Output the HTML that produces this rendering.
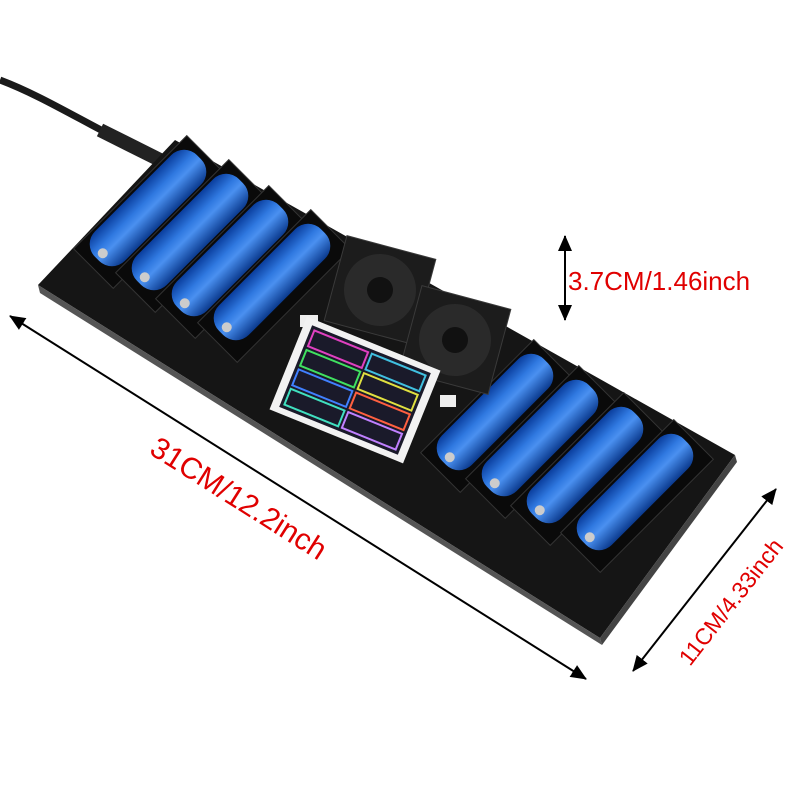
<!DOCTYPE html>
<html><head><meta charset="utf-8"><style>
html,body{margin:0;padding:0;background:#fff;width:800px;height:800px;overflow:hidden}
</style></head><body>
<svg width="800" height="800" viewBox="0 0 800 800" xmlns="http://www.w3.org/2000/svg">
<defs>
<linearGradient id="bat" x1="0" y1="0" x2="1" y2="0">
<stop offset="0" stop-color="#0a3d9c"/><stop offset="0.35" stop-color="#2f78e0"/><stop offset="0.55" stop-color="#4a90f0"/><stop offset="1" stop-color="#0b3a8e"/>
</linearGradient>
<marker id="ah" markerUnits="userSpaceOnUse" markerWidth="16" markerHeight="14" refX="15" refY="7" orient="auto"><path d="M0,0 L16,7 L0,14 z" fill="#000"/></marker>
<marker id="at" markerUnits="userSpaceOnUse" markerWidth="16" markerHeight="14" refX="1" refY="7" orient="auto"><path d="M16,0 L0,7 L16,14 z" fill="#000"/></marker>
</defs>
<path d="M0,80 C40,95 80,120 130,145" stroke="#1a1a1a" stroke-width="7" fill="none"/>
<path d="M100,130 L160,160" stroke="#222" stroke-width="14"/>
<polygon points="175,140 735,455 600,638 38,285" fill="#151515"/>
<polygon points="38,285 600,638 602,645 40,293" fill="#555"/>
<polygon points="600,638 735,455 737,462 602,645" fill="#444"/>
<g fill="#0a0a0a" stroke="#333" stroke-width="1">
<g transform="translate(150,212) rotate(45)"><rect x="-28" y="-80" width="56" height="160"/></g>
<g transform="translate(192,236) rotate(45)"><rect x="-28" y="-80" width="56" height="160"/></g>
<g transform="translate(232,262) rotate(45)"><rect x="-28" y="-80" width="56" height="160"/></g>
<g transform="translate(274,286) rotate(45)"><rect x="-28" y="-80" width="56" height="160"/></g>
<g transform="translate(497,416) rotate(45)"><rect x="-28" y="-80" width="56" height="160"/></g>
<g transform="translate(542,442) rotate(45)"><rect x="-28" y="-80" width="56" height="160"/></g>
<g transform="translate(587,469) rotate(45)"><rect x="-28" y="-80" width="56" height="160"/></g>
<g transform="translate(637,496) rotate(45)"><rect x="-28" y="-80" width="56" height="160"/></g>
</g>
<g>
<g transform="translate(148,208) rotate(45)"><rect x="-21" y="-72" width="42" height="144" rx="18" fill="url(#bat)"/><circle cx="0" cy="64" r="5" fill="#ccc"/></g>
<g transform="translate(190,232) rotate(45)"><rect x="-21" y="-72" width="42" height="144" rx="18" fill="url(#bat)"/><circle cx="0" cy="64" r="5" fill="#ccc"/></g>
<g transform="translate(230,258) rotate(45)"><rect x="-21" y="-72" width="42" height="144" rx="18" fill="url(#bat)"/><circle cx="0" cy="64" r="5" fill="#ccc"/></g>
<g transform="translate(272,282) rotate(45)"><rect x="-21" y="-72" width="42" height="144" rx="18" fill="url(#bat)"/><circle cx="0" cy="64" r="5" fill="#ccc"/></g>
<g transform="translate(495,412) rotate(45)"><rect x="-21" y="-72" width="42" height="144" rx="18" fill="url(#bat)"/><circle cx="0" cy="64" r="5" fill="#ccc"/></g>
<g transform="translate(540,438) rotate(45)"><rect x="-21" y="-72" width="42" height="144" rx="18" fill="url(#bat)"/><circle cx="0" cy="64" r="5" fill="#ccc"/></g>
<g transform="translate(585,465) rotate(45)"><rect x="-21" y="-72" width="42" height="144" rx="18" fill="url(#bat)"/><circle cx="0" cy="64" r="5" fill="#ccc"/></g>
<g transform="translate(635,492) rotate(45)"><rect x="-21" y="-72" width="42" height="144" rx="18" fill="url(#bat)"/><circle cx="0" cy="64" r="5" fill="#ccc"/></g>
</g>
<g transform="translate(380,290) rotate(15)"><rect x="-46" y="-44" width="92" height="88" fill="#1c1c1c" stroke="#3a3a3a"/><circle r="36" fill="#2a2a2a"/><circle r="13" fill="#111"/></g>
<g transform="translate(455,340) rotate(15)"><rect x="-46" y="-44" width="92" height="88" fill="#1c1c1c" stroke="#3a3a3a"/><circle r="36" fill="#2a2a2a"/><circle r="13" fill="#111"/></g>
<rect x="300" y="315" width="18" height="12" fill="#eee"/>
<rect x="440" y="395" width="16" height="12" fill="#eee"/>
<g transform="translate(355,390) rotate(22)">
<rect x="-72" y="-50" width="144" height="100" fill="#f2f2f2"/>
<rect x="-64" y="-44" width="128" height="88" fill="#1a1a2a"/>
<g fill="none" stroke-width="2">
<rect x="-60" y="-40" width="58" height="17" stroke="#e040c0"/>
<rect x="2" y="-40" width="58" height="17" stroke="#40c0e0"/>
<rect x="-60" y="-19" width="58" height="17" stroke="#40e060"/>
<rect x="2" y="-19" width="58" height="17" stroke="#e0e040"/>
<rect x="-60" y="2" width="58" height="17" stroke="#4080ff"/>
<rect x="2" y="2" width="58" height="17" stroke="#ff6040"/>
<rect x="-60" y="23" width="58" height="17" stroke="#40e0c0"/>
<rect x="2" y="23" width="58" height="17" stroke="#c080ff"/>
</g>
</g>
<line x1="565" y1="236" x2="565" y2="320" stroke="#000" stroke-width="2" marker-start="url(#at)" marker-end="url(#ah)"/>
<text x="568" y="290" font-family="Liberation Sans, sans-serif" font-size="26" fill="#e00000">3.7CM/1.46inch</text>
<line x1="10" y1="316" x2="586" y2="679" stroke="#000" stroke-width="2" marker-start="url(#at)" marker-end="url(#ah)"/>
<text transform="translate(148,453) rotate(32.3)" font-family="Liberation Sans, sans-serif" font-size="30" fill="#e00000">31CM/12.2inch</text>
<line x1="776" y1="489" x2="633" y2="671" stroke="#000" stroke-width="2" marker-start="url(#at)" marker-end="url(#ah)"/>
<text transform="translate(690,667) rotate(-52)" font-family="Liberation Sans, sans-serif" font-size="23" fill="#e00000">11CM/4.33inch</text>
</svg>
</body></html>
